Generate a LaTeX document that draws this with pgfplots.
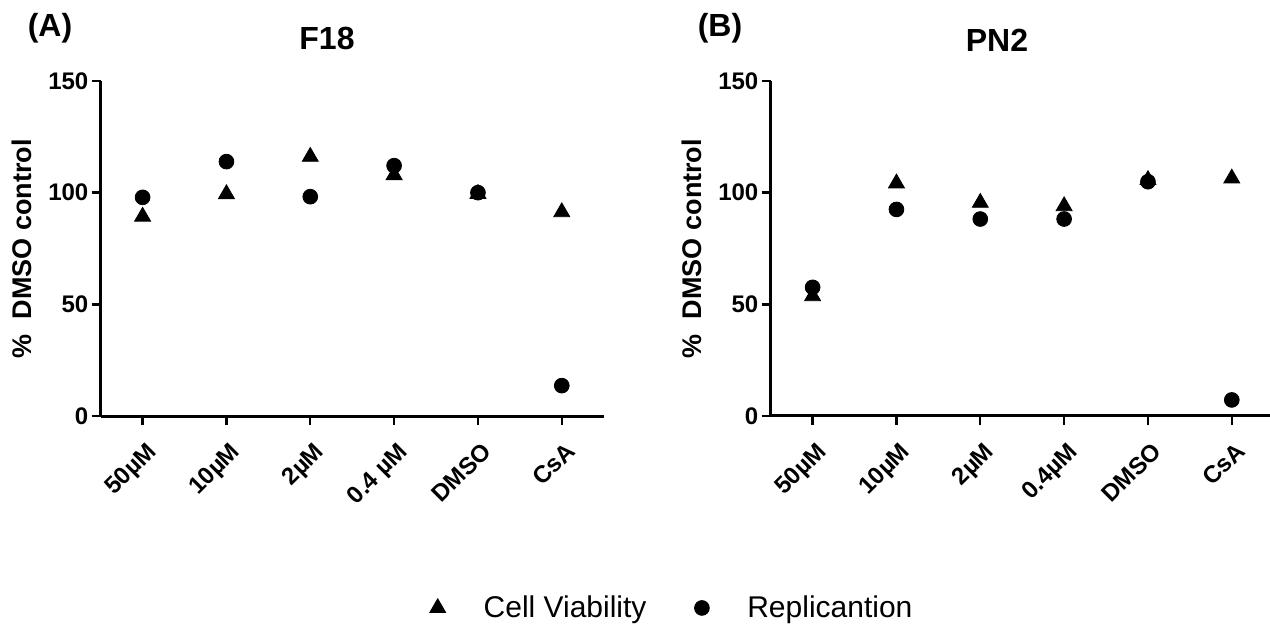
\documentclass[border=0pt]{standalone}
\usepackage{fontspec}
\setmainfont{Liberation Sans}
\usepackage{pgfplots}
\pgfplotsset{compat=1.18}

% one pixel of the reference = 0.5pt
\pgfplotsset{
  dmso/.style={
    scale only axis, width=251.5pt, height=167.5pt,
    anchor=south west,
    axis lines*=left,
    axis line style={line width=1.5pt},
    xmin=-0.5, xmax=5.5, ymin=0, ymax=150,
    xtick={0,1,2,3,4,5}, ytick={0,50,100,150},
    tick style={line width=1.2pt, black},
    tick align=outside, major tick length=4.5pt,
    xticklabel style={rotate=45, anchor=north east, inner sep=1pt,
      xshift=-3.5pt, yshift=-5.5pt,
      font=\bfseries\fontsize{12}{14}\selectfont},
    yticklabel style={inner sep=1.5pt, font=\bfseries\fontsize{12}{14}\selectfont},
    /pgf/number format/assume math mode=true,
    ylabel={\%\ \ DMSO control},
    ylabel style={at={(axis description cs:-0.157,0.5)}, anchor=center,
      font=\bfseries\fontsize{13.5}{16}\selectfont},
    clip=false,
  },
  via/.style={only marks, mark=triangle*, mark size=4.6pt, black},
  rep/.style={only marks, mark=*, mark size=3.7pt, black},
}

\begin{document}
\begin{tikzpicture}
\path[use as bounding box] (0pt,0pt) rectangle (635pt,-312.5pt);

% panel A: F18
\begin{axis}[dmso, at={(50.35pt,-208pt)},
  xticklabels={50µM,10µM,2µM,0.4 µM,DMSO,CsA},
  legend columns=2,
  legend style={at={(axis description cs:1.134,-0.573)}, anchor=center,
    draw=none, fill=none, font=\fontsize{15}{17}\selectfont,
    nodes={inner sep=0pt},
    /tikz/every odd column/.append style={column sep=19pt},
    /tikz/every even column/.append style={column sep=24pt}},
  legend image code/.code={\draw[#1] plot coordinates {(0pt,0pt)};},
]
\addplot[via] coordinates {(0,89.3) (1,99.4) (2,116.1) (3,107.9) (4,99.5) (5,91.3)};
\addlegendentry{Cell Viability}
\addplot[rep] coordinates {(0,97.9) (1,113.9) (2,98.2) (3,112.1) (4,100) (5,13.6)};
\addlegendentry{Replicantion}
\end{axis}

% panel B: PN2
\begin{axis}[dmso, at={(385.35pt,-208pt)},
  xticklabels={50µM,10µM,2µM,0.4µM,DMSO,CsA},
]
\addplot[via] coordinates {(0,53.7) (1,104.2) (2,95.5) (3,94) (4,105.7) (5,106.4)};
\addplot[rep] coordinates {(0,57.6) (1,92.5) (2,88.2) (3,88.2) (4,104.9) (5,7.2)};
\end{axis}

\node[font=\bfseries\fontsize{16}{18}\selectfont] at (163.5pt,-19pt) {F18};
\node[font=\bfseries\fontsize{16}{18}\selectfont] at (498.5pt,-20pt) {PN2};
\node[font=\bfseries\fontsize{16}{18}\selectfont] at (25pt,-14pt) {(A)};
\node[font=\bfseries\fontsize{16}{18}\selectfont] at (360pt,-14pt) {(B)};
\end{tikzpicture}
\end{document}
